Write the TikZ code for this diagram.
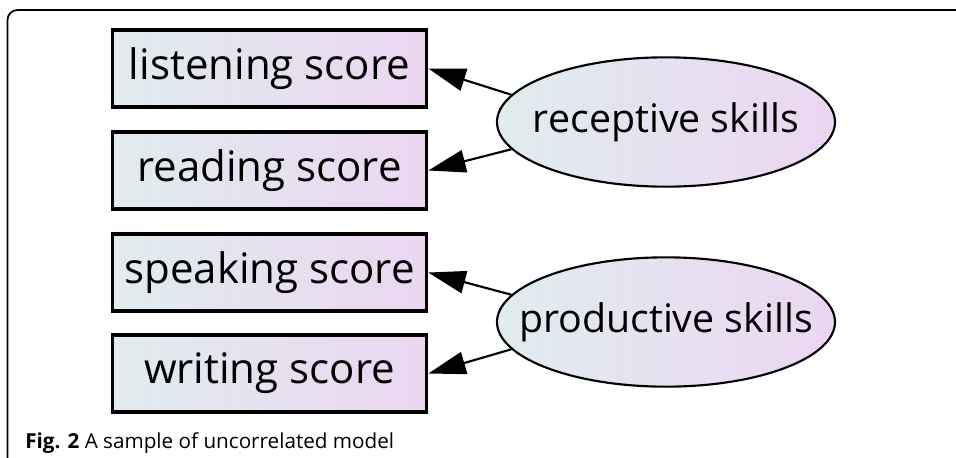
\documentclass[tikz,border=0pt]{standalone}
\usepackage{fontspec}
\setmainfont{Open Sans}
\usetikzlibrary{shapes.geometric,arrows.meta}
\definecolor{shadeL}{RGB}{224,236,238}
\definecolor{shadeR}{RGB}{236,214,242}
\tikzset{
  observed/.style={draw=black, line width=2.3pt, rectangle, left color=shadeL, right color=shadeR,
    minimum width=236pt, minimum height=57.75pt, inner sep=0pt,
    font=\fontsize{31.5}{36}\selectfont},
  latent/.style={draw=black, line width=1.6pt, ellipse, left color=shadeL, right color=shadeR,
    minimum width=253.5pt, minimum height=97pt, inner sep=0pt,
    font=\fontsize{29.5}{34}\selectfont},
  loading/.style={line width=1.6pt, -{Triangle[length=28pt, width=17pt]}}
}
% text of a latent factor, kept out of the ellipse's size
\newcommand{\factortext}[1]{\makebox[0pt]{#1}}
\begin{document}
\begin{tikzpicture}[x=0.75pt, y=-0.75pt]
\useasboundingbox (0,0) rectangle (956,457);
% figure frame
\draw[line width=1.3pt, rounded corners=7.5pt] (7.5,470) -- (7.5,10) -- (970,10);
\useasboundingbox (0,0) rectangle (956,457);

% observed indicators
\node[observed] (listen) at (269.5,68.5) {listening score};
\node[observed] (read)   at (269.5,170.5) {reading score};
\node[observed] (speak)  at (269.5,272.5) {speaking score};
\node[observed] (write)  at (269.5,373.5) {writing score};

% latent factors
\node[latent] (rec)  at (666,122) {\factortext{receptive skills}};
\node[latent] (prod) at (666,322) {\factortext{productive skills}};

% factor loadings
\draw[loading] (rec.170)  -- (listen.east);
\draw[loading] (rec.190)  -- (read.east);
\draw[loading] (prod.170) -- (speak.east);
\draw[loading] (prod.190) -- (write.east);

% caption
\node[anchor=base west, inner sep=0pt, font=\fontsize{15.5}{18}\selectfont] (cap) at (25,448)
  {\textbf{Fig. 2} A sample of uncorrelated model};
\end{tikzpicture}
\end{document}
